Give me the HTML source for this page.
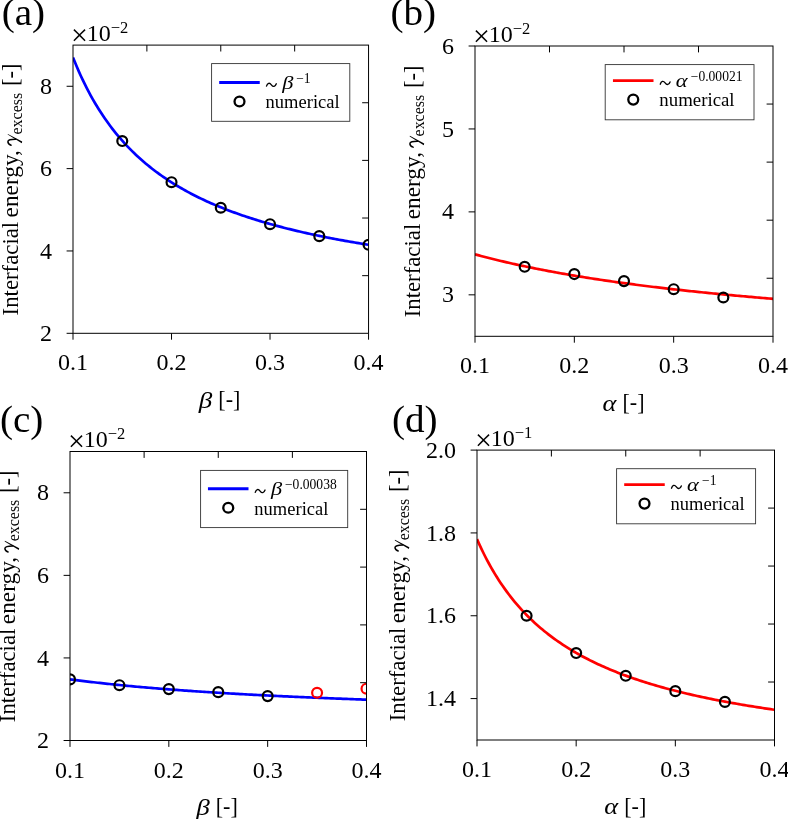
<!DOCTYPE html>
<html><head><meta charset="utf-8"><title>Figure</title>
<style>
html,body{margin:0;padding:0;background:#fff;}
body{width:788px;height:819px;overflow:hidden;font-family:"Liberation Serif", serif;}
svg{display:block;will-change:transform;}
svg text{font-family:"Liberation Serif", serif;fill:#000;}
</style></head><body>
<svg width="788" height="819" viewBox="0 0 788 819">
<rect x="0" y="0" width="788" height="819" fill="#fff"/>
<clipPath id="clipa"><rect x="73.0" y="45.1" width="295.55" height="288.2"/></clipPath>
<polyline clip-path="url(#clipa)" points="73.00,57.45 74.97,62.35 76.94,67.06 78.91,71.59 80.88,75.95 82.85,80.16 84.82,84.21 86.79,88.13 88.76,91.90 90.73,95.55 92.70,99.08 94.67,102.49 96.64,105.80 98.61,108.99 100.58,112.09 102.55,115.09 104.53,118.01 106.50,120.83 108.47,123.57 110.44,126.23 112.41,128.82 114.38,131.33 116.35,133.78 118.32,136.15 120.29,138.46 122.26,140.71 124.23,142.90 126.20,145.04 128.17,147.12 130.14,149.15 132.11,151.12 134.08,153.05 136.05,154.93 138.02,156.76 139.99,158.56 141.96,160.30 143.93,162.01 145.90,163.68 147.87,165.31 149.84,166.91 151.81,168.47 153.78,169.99 155.75,171.48 157.72,172.94 159.69,174.37 161.66,175.77 163.64,177.14 165.61,178.48 167.58,179.80 169.55,181.08 171.52,182.34 173.49,183.58 175.46,184.79 177.43,185.98 179.40,187.15 181.37,188.29 183.34,189.41 185.31,190.52 187.28,191.60 189.25,192.66 191.22,193.70 193.19,194.72 195.16,195.73 197.13,196.71 199.10,197.68 201.07,198.64 203.04,199.57 205.01,200.49 206.98,201.40 208.95,202.29 210.92,203.16 212.89,204.02 214.86,204.87 216.83,205.70 218.80,206.52 220.77,207.32 222.75,208.12 224.72,208.90 226.69,209.67 228.66,210.42 230.63,211.17 232.60,211.90 234.57,212.62 236.54,213.33 238.51,214.03 240.48,214.72 242.45,215.41 244.42,216.08 246.39,216.74 248.36,217.39 250.33,218.03 252.30,218.66 254.27,219.29 256.24,219.90 258.21,220.51 260.18,221.11 262.15,221.69 264.12,222.28 266.09,222.85 268.06,223.42 270.03,223.98 272.00,224.53 273.97,225.07 275.94,225.61 277.91,226.14 279.88,226.66 281.86,227.18 283.83,227.69 285.80,228.19 287.77,228.69 289.74,229.18 291.71,229.66 293.68,230.14 295.65,230.62 297.62,231.08 299.59,231.55 301.56,232.00 303.53,232.45 305.50,232.90 307.47,233.34 309.44,233.77 311.41,234.20 313.38,234.63 315.35,235.05 317.32,235.46 319.29,235.87 321.26,236.28 323.23,236.68 325.20,237.07 327.17,237.47 329.14,237.85 331.11,238.24 333.08,238.62 335.05,238.99 337.02,239.36 339.00,239.73 340.97,240.09 342.94,240.45 344.91,240.81 346.88,241.16 348.85,241.51 350.82,241.85 352.79,242.19 354.76,242.53 356.73,242.86 358.70,243.19 360.67,243.52 362.64,243.84 364.61,244.16 366.58,244.48 368.55,244.79" fill="none" stroke="#0000ff" stroke-width="2.7" stroke-linejoin="round"/>
<circle clip-path="url(#clipa)" cx="122.26" cy="141.03" r="4.95" fill="none" stroke="#000" stroke-width="2.2"/>
<circle clip-path="url(#clipa)" cx="171.52" cy="182.20" r="4.95" fill="none" stroke="#000" stroke-width="2.2"/>
<circle clip-path="url(#clipa)" cx="220.77" cy="207.73" r="4.95" fill="none" stroke="#000" stroke-width="2.2"/>
<circle clip-path="url(#clipa)" cx="270.03" cy="224.20" r="4.95" fill="none" stroke="#000" stroke-width="2.2"/>
<circle clip-path="url(#clipa)" cx="319.29" cy="236.14" r="4.95" fill="none" stroke="#000" stroke-width="2.2"/>
<circle clip-path="url(#clipa)" cx="368.55" cy="244.78" r="4.95" fill="none" stroke="#000" stroke-width="2.2"/>
<rect x="73.0" y="45.1" width="295.55" height="288.2" fill="none" stroke="#000" stroke-width="1.0"/>
<line x1="73.00" y1="333.3" x2="73.00" y2="339.7" stroke="#000" stroke-width="1.0"/>
<text transform="translate(73.00,370.30)" font-size="24" text-anchor="middle" >0.1</text>
<line x1="171.52" y1="333.3" x2="171.52" y2="339.7" stroke="#000" stroke-width="1.0"/>
<text transform="translate(171.52,370.30)" font-size="24" text-anchor="middle" >0.2</text>
<line x1="270.03" y1="333.3" x2="270.03" y2="339.7" stroke="#000" stroke-width="1.0"/>
<text transform="translate(270.03,370.30)" font-size="24" text-anchor="middle" >0.3</text>
<line x1="368.55" y1="333.3" x2="368.55" y2="339.7" stroke="#000" stroke-width="1.0"/>
<text transform="translate(368.55,370.30)" font-size="24" text-anchor="middle" >0.4</text>
<line x1="73.0" y1="333.30" x2="66.6" y2="333.30" stroke="#000" stroke-width="1.0"/>
<text transform="translate(52.00,340.90)" font-size="24" text-anchor="end" >2</text>
<line x1="73.0" y1="250.96" x2="66.6" y2="250.96" stroke="#000" stroke-width="1.0"/>
<text transform="translate(52.00,258.56)" font-size="24" text-anchor="end" >4</text>
<line x1="73.0" y1="168.61" x2="66.6" y2="168.61" stroke="#000" stroke-width="1.0"/>
<text transform="translate(52.00,176.21)" font-size="24" text-anchor="end" >6</text>
<line x1="73.0" y1="86.27" x2="66.6" y2="86.27" stroke="#000" stroke-width="1.0"/>
<text transform="translate(52.00,93.87)" font-size="24" text-anchor="end" >8</text>
<line x1="146.89" y1="45.1" x2="146.89" y2="51.5" stroke="#000" stroke-width="1.0"/>
<line x1="220.78" y1="45.1" x2="220.78" y2="51.5" stroke="#000" stroke-width="1.0"/>
<line x1="294.66" y1="45.1" x2="294.66" y2="51.5" stroke="#000" stroke-width="1.0"/>
<line x1="368.55" y1="275.66" x2="362.15000000000003" y2="275.66" stroke="#000" stroke-width="1.0"/>
<line x1="368.55" y1="218.02" x2="362.15000000000003" y2="218.02" stroke="#000" stroke-width="1.0"/>
<line x1="368.55" y1="160.38" x2="362.15000000000003" y2="160.38" stroke="#000" stroke-width="1.0"/>
<line x1="368.55" y1="102.74" x2="362.15000000000003" y2="102.74" stroke="#000" stroke-width="1.0"/>
<text transform="translate(71.10,44.70)" font-size="30" text-anchor="start" >×</text>
<text transform="translate(86.80,41.00)" font-size="24" text-anchor="start" >10<tspan font-size="16.5" dy="-8.1">−2</tspan></text>
<text transform="translate(1.70,25.30) scale(1.03,1)" font-size="38" text-anchor="start" >(a)</text>
<text transform="translate(198.78,407.50) scale(1.13,1)" font-size="24" text-anchor="start" font-style="italic">β</text>
<text transform="translate(218.28,407.20) scale(0.96,1)" font-size="23" text-anchor="start" >[-]</text>
<text transform="translate(18.10,315.40) rotate(-90) scale(0.95,1)" font-size="24" text-anchor="start" >Interfacial</text>
<text transform="translate(18.10,217.40) rotate(-90) scale(0.972,1)" font-size="24" text-anchor="start" >energy,</text>
<g transform="translate(18.10,145.50) rotate(-90)"><path d="M0.3,-7.0 C1.1,-9.0 2.4,-10.2 3.8,-10.2 C5.5,-10.2 6.3,-7.4 6.25,-2.4" fill="none" stroke="#000" stroke-width="1.5" stroke-linecap="round"/><path d="M10.9,-10.4 L11.6,-10.25 L4.0,4.1 L2.3,3.7 Z" fill="#000"/></g>
<text transform="translate(21.70,134.50) rotate(-90) scale(0.95,1)" font-size="16.8" text-anchor="start" >excess</text>
<text transform="translate(17.90,86.10) rotate(-90) scale(0.98,1)" font-size="23" text-anchor="start" >[-]</text>
<rect x="211.60" y="63.60" width="138.20" height="57.70" fill="#fff" stroke="#333" stroke-width="0.9"/>
<line x1="219.20" y1="82.50" x2="259.75" y2="82.50" stroke="#0000ff" stroke-width="2.8"/>
<circle cx="239.50" cy="101.50" r="4.95" fill="none" stroke="#000" stroke-width="2.3"/>
<path transform="translate(265.60,88.80)" d="M0.9,-2.7 C1.9,-5.8 3.9,-6.5 5.75,-4.0 C7.6,-1.5 9.6,-2.0 10.7,-5.0" fill="none" stroke="#000" stroke-width="1.35" stroke-linecap="round"/>
<text transform="translate(282.20,88.90) scale(1.15,1)" font-size="19.5" text-anchor="start" font-style="italic">β</text>
<text transform="translate(296.20,83.20) scale(0.97,1)" font-size="14" text-anchor="start" >−1</text>
<text transform="translate(265.60,107.90) scale(0.95,1)" font-size="19.5" text-anchor="start" >numerical</text>
<clipPath id="clipb"><rect x="475.0" y="46.0" width="298.0" height="290.3"/></clipPath>
<polyline clip-path="url(#clipb)" points="475.00,254.35 476.99,254.89 478.97,255.42 480.96,255.95 482.95,256.48 484.93,257.00 486.92,257.51 488.91,258.02 490.89,258.52 492.88,259.01 494.87,259.51 496.85,259.99 498.84,260.47 500.83,260.95 502.81,261.42 504.80,261.89 506.79,262.35 508.77,262.80 510.76,263.26 512.75,263.70 514.73,264.15 516.72,264.58 518.71,265.02 520.69,265.45 522.68,265.87 524.67,266.30 526.65,266.71 528.64,267.13 530.63,267.54 532.61,267.94 534.60,268.34 536.59,268.74 538.57,269.13 540.56,269.52 542.55,269.91 544.53,270.29 546.52,270.67 548.51,271.05 550.49,271.42 552.48,271.79 554.47,272.16 556.45,272.52 558.44,272.88 560.43,273.23 562.41,273.59 564.40,273.93 566.39,274.28 568.37,274.62 570.36,274.96 572.35,275.30 574.33,275.64 576.32,275.97 578.31,276.30 580.29,276.62 582.28,276.94 584.27,277.26 586.25,277.58 588.24,277.90 590.23,278.21 592.21,278.52 594.20,278.82 596.19,279.13 598.17,279.43 600.16,279.73 602.15,280.03 604.13,280.32 606.12,280.61 608.11,280.90 610.09,281.19 612.08,281.48 614.07,281.76 616.05,282.04 618.04,282.32 620.03,282.59 622.01,282.87 624.00,283.14 625.99,283.41 627.97,283.67 629.96,283.94 631.95,284.20 633.93,284.46 635.92,284.72 637.91,284.98 639.89,285.24 641.88,285.49 643.87,285.74 645.85,285.99 647.84,286.24 649.83,286.48 651.81,286.73 653.80,286.97 655.79,287.21 657.77,287.45 659.76,287.69 661.75,287.92 663.73,288.15 665.72,288.39 667.71,288.62 669.69,288.84 671.68,289.07 673.67,289.30 675.65,289.52 677.64,289.74 679.63,289.96 681.61,290.18 683.60,290.40 685.59,290.61 687.57,290.83 689.56,291.04 691.55,291.25 693.53,291.46 695.52,291.67 697.51,291.88 699.49,292.08 701.48,292.28 703.47,292.49 705.45,292.69 707.44,292.89 709.43,293.09 711.41,293.28 713.40,293.48 715.39,293.68 717.37,293.87 719.36,294.06 721.35,294.25 723.33,294.44 725.32,294.63 727.31,294.82 729.29,295.00 731.28,295.19 733.27,295.37 735.25,295.55 737.24,295.73 739.23,295.91 741.21,296.09 743.20,296.27 745.19,296.45 747.17,296.62 749.16,296.80 751.15,296.97 753.13,297.14 755.12,297.31 757.11,297.48 759.09,297.65 761.08,297.82 763.07,297.99 765.05,298.15 767.04,298.32 769.03,298.48 771.01,298.64 773.00,298.80" fill="none" stroke="#ff0000" stroke-width="2.7" stroke-linejoin="round"/>
<circle clip-path="url(#clipb)" cx="524.67" cy="266.79" r="4.95" fill="none" stroke="#000" stroke-width="2.2"/>
<circle clip-path="url(#clipb)" cx="574.33" cy="274.09" r="4.95" fill="none" stroke="#000" stroke-width="2.2"/>
<circle clip-path="url(#clipb)" cx="624.00" cy="281.10" r="4.95" fill="none" stroke="#000" stroke-width="2.2"/>
<circle clip-path="url(#clipb)" cx="673.67" cy="289.20" r="4.95" fill="none" stroke="#000" stroke-width="2.2"/>
<circle clip-path="url(#clipb)" cx="723.33" cy="297.50" r="4.95" fill="none" stroke="#000" stroke-width="2.2"/>
<rect x="475.0" y="46.0" width="298.0" height="290.3" fill="none" stroke="#000" stroke-width="1.0"/>
<line x1="475.00" y1="336.3" x2="475.00" y2="342.7" stroke="#000" stroke-width="1.0"/>
<text transform="translate(475.00,373.30)" font-size="24" text-anchor="middle" >0.1</text>
<line x1="574.33" y1="336.3" x2="574.33" y2="342.7" stroke="#000" stroke-width="1.0"/>
<text transform="translate(574.33,373.30)" font-size="24" text-anchor="middle" >0.2</text>
<line x1="673.67" y1="336.3" x2="673.67" y2="342.7" stroke="#000" stroke-width="1.0"/>
<text transform="translate(673.67,373.30)" font-size="24" text-anchor="middle" >0.3</text>
<line x1="773.00" y1="336.3" x2="773.00" y2="342.7" stroke="#000" stroke-width="1.0"/>
<text transform="translate(773.00,373.30)" font-size="24" text-anchor="middle" >0.4</text>
<line x1="475.0" y1="294.83" x2="468.6" y2="294.83" stroke="#000" stroke-width="1.0"/>
<text transform="translate(454.00,302.43)" font-size="24" text-anchor="end" >3</text>
<line x1="475.0" y1="211.89" x2="468.6" y2="211.89" stroke="#000" stroke-width="1.0"/>
<text transform="translate(454.00,219.49)" font-size="24" text-anchor="end" >4</text>
<line x1="475.0" y1="128.94" x2="468.6" y2="128.94" stroke="#000" stroke-width="1.0"/>
<text transform="translate(454.00,136.54)" font-size="24" text-anchor="end" >5</text>
<line x1="475.0" y1="46.00" x2="468.6" y2="46.00" stroke="#000" stroke-width="1.0"/>
<text transform="translate(454.00,53.60)" font-size="24" text-anchor="end" >6</text>
<line x1="549.50" y1="46.0" x2="549.50" y2="52.4" stroke="#000" stroke-width="1.0"/>
<line x1="624.00" y1="46.0" x2="624.00" y2="52.4" stroke="#000" stroke-width="1.0"/>
<line x1="698.50" y1="46.0" x2="698.50" y2="52.4" stroke="#000" stroke-width="1.0"/>
<line x1="773.0" y1="278.24" x2="766.6" y2="278.24" stroke="#000" stroke-width="1.0"/>
<line x1="773.0" y1="220.18" x2="766.6" y2="220.18" stroke="#000" stroke-width="1.0"/>
<line x1="773.0" y1="162.12" x2="766.6" y2="162.12" stroke="#000" stroke-width="1.0"/>
<line x1="773.0" y1="104.06" x2="766.6" y2="104.06" stroke="#000" stroke-width="1.0"/>
<text transform="translate(473.10,45.60)" font-size="30" text-anchor="start" >×</text>
<text transform="translate(488.80,41.90)" font-size="24" text-anchor="start" >10<tspan font-size="16.5" dy="-8.1">−2</tspan></text>
<text transform="translate(390.50,25.40) scale(1.03,1)" font-size="38" text-anchor="start" >(b)</text>
<text transform="translate(602.40,410.50) scale(1.1,1)" font-size="24" text-anchor="start" font-style="italic">α</text>
<text transform="translate(622.50,410.20) scale(0.96,1)" font-size="23" text-anchor="start" >[-]</text>
<text transform="translate(420.10,317.35) rotate(-90) scale(0.95,1)" font-size="24" text-anchor="start" >Interfacial</text>
<text transform="translate(420.10,219.35) rotate(-90) scale(0.972,1)" font-size="24" text-anchor="start" >energy,</text>
<g transform="translate(420.10,147.45) rotate(-90)"><path d="M0.3,-7.0 C1.1,-9.0 2.4,-10.2 3.8,-10.2 C5.5,-10.2 6.3,-7.4 6.25,-2.4" fill="none" stroke="#000" stroke-width="1.5" stroke-linecap="round"/><path d="M10.9,-10.4 L11.6,-10.25 L4.0,4.1 L2.3,3.7 Z" fill="#000"/></g>
<text transform="translate(423.70,136.45) rotate(-90) scale(0.95,1)" font-size="16.8" text-anchor="start" >excess</text>
<text transform="translate(419.90,88.05) rotate(-90) scale(0.98,1)" font-size="23" text-anchor="start" >[-]</text>
<rect x="605.20" y="64.60" width="148.80" height="55.20" fill="#fff" stroke="#333" stroke-width="0.9"/>
<line x1="612.95" y1="80.60" x2="653.50" y2="80.60" stroke="#ff0000" stroke-width="2.8"/>
<circle cx="633.25" cy="99.60" r="4.95" fill="none" stroke="#000" stroke-width="2.3"/>
<path transform="translate(659.35,86.90)" d="M0.9,-2.7 C1.9,-5.8 3.9,-6.5 5.75,-4.0 C7.6,-1.5 9.6,-2.0 10.7,-5.0" fill="none" stroke="#000" stroke-width="1.35" stroke-linecap="round"/>
<text transform="translate(675.85,86.90) scale(1.15,1)" font-size="19.5" text-anchor="start" font-style="italic">α</text>
<text transform="translate(690.75,80.90) scale(0.97,1)" font-size="14" text-anchor="start" >−0.00021</text>
<text transform="translate(659.35,106.40) scale(0.965,1)" font-size="19.5" text-anchor="start" >numerical</text>
<clipPath id="clipc"><rect x="70.0" y="451.5" width="296.5" height="289.0"/></clipPath>
<polyline clip-path="url(#clipc)" points="70.00,679.33 71.98,679.59 73.95,679.85 75.93,680.10 77.91,680.36 79.88,680.61 81.86,680.85 83.84,681.10 85.81,681.34 87.79,681.58 89.77,681.81 91.74,682.04 93.72,682.27 95.70,682.50 97.67,682.72 99.65,682.94 101.63,683.16 103.60,683.38 105.58,683.59 107.56,683.81 109.53,684.02 111.51,684.22 113.49,684.43 115.46,684.63 117.44,684.83 119.42,685.03 121.39,685.22 123.37,685.42 125.35,685.61 127.32,685.80 129.30,685.99 131.28,686.17 133.25,686.36 135.23,686.54 137.21,686.72 139.18,686.90 141.16,687.07 143.14,687.25 145.11,687.42 147.09,687.59 149.07,687.76 151.04,687.93 153.02,688.09 155.00,688.26 156.97,688.42 158.95,688.58 160.93,688.74 162.90,688.90 164.88,689.05 166.86,689.21 168.83,689.36 170.81,689.51 172.79,689.66 174.76,689.81 176.74,689.96 178.72,690.11 180.69,690.25 182.67,690.39 184.65,690.54 186.62,690.68 188.60,690.82 190.58,690.95 192.55,691.09 194.53,691.23 196.51,691.36 198.48,691.50 200.46,691.63 202.44,691.76 204.41,691.89 206.39,692.02 208.37,692.14 210.34,692.27 212.32,692.40 214.30,692.52 216.27,692.64 218.25,692.77 220.23,692.89 222.20,693.01 224.18,693.13 226.16,693.24 228.13,693.36 230.11,693.48 232.09,693.59 234.06,693.71 236.04,693.82 238.02,693.93 239.99,694.04 241.97,694.15 243.95,694.26 245.92,694.37 247.90,694.48 249.88,694.59 251.85,694.69 253.83,694.80 255.81,694.90 257.78,695.01 259.76,695.11 261.74,695.21 263.71,695.31 265.69,695.41 267.67,695.51 269.64,695.61 271.62,695.71 273.60,695.81 275.57,695.90 277.55,696.00 279.53,696.09 281.50,696.19 283.48,696.28 285.46,696.38 287.43,696.47 289.41,696.56 291.39,696.65 293.36,696.74 295.34,696.83 297.32,696.92 299.29,697.01 301.27,697.10 303.25,697.18 305.22,697.27 307.20,697.35 309.18,697.44 311.15,697.52 313.13,697.61 315.11,697.69 317.08,697.77 319.06,697.86 321.04,697.94 323.01,698.02 324.99,698.10 326.97,698.18 328.94,698.26 330.92,698.34 332.90,698.42 334.87,698.49 336.85,698.57 338.83,698.65 340.80,698.72 342.78,698.80 344.76,698.88 346.73,698.95 348.71,699.02 350.69,699.10 352.66,699.17 354.64,699.24 356.62,699.32 358.59,699.39 360.57,699.46 362.55,699.53 364.52,699.60 366.50,699.67" fill="none" stroke="#0000ff" stroke-width="2.7" stroke-linejoin="round"/>
<circle clip-path="url(#clipc)" cx="70.00" cy="679.40" r="4.95" fill="none" stroke="#000" stroke-width="2.2"/>
<circle clip-path="url(#clipc)" cx="119.42" cy="685.20" r="4.95" fill="none" stroke="#000" stroke-width="2.2"/>
<circle clip-path="url(#clipc)" cx="168.83" cy="689.10" r="4.95" fill="none" stroke="#000" stroke-width="2.2"/>
<circle clip-path="url(#clipc)" cx="218.25" cy="692.15" r="4.95" fill="none" stroke="#000" stroke-width="2.2"/>
<circle clip-path="url(#clipc)" cx="267.67" cy="696.10" r="4.95" fill="none" stroke="#000" stroke-width="2.2"/>
<circle clip-path="url(#clipc)" cx="317.08" cy="692.80" r="4.95" fill="none" stroke="#ff0000" stroke-width="2.2"/>
<circle clip-path="url(#clipc)" cx="366.50" cy="688.70" r="4.95" fill="none" stroke="#ff0000" stroke-width="2.2"/>
<rect x="70.0" y="451.5" width="296.5" height="289.0" fill="none" stroke="#000" stroke-width="1.0"/>
<line x1="70.00" y1="740.5" x2="70.00" y2="746.9" stroke="#000" stroke-width="1.0"/>
<text transform="translate(70.00,777.50)" font-size="24" text-anchor="middle" >0.1</text>
<line x1="168.83" y1="740.5" x2="168.83" y2="746.9" stroke="#000" stroke-width="1.0"/>
<text transform="translate(168.83,777.50)" font-size="24" text-anchor="middle" >0.2</text>
<line x1="267.67" y1="740.5" x2="267.67" y2="746.9" stroke="#000" stroke-width="1.0"/>
<text transform="translate(267.67,777.50)" font-size="24" text-anchor="middle" >0.3</text>
<line x1="366.50" y1="740.5" x2="366.50" y2="746.9" stroke="#000" stroke-width="1.0"/>
<text transform="translate(366.50,777.50)" font-size="24" text-anchor="middle" >0.4</text>
<line x1="70.0" y1="740.50" x2="63.6" y2="740.50" stroke="#000" stroke-width="1.0"/>
<text transform="translate(49.00,748.10)" font-size="24" text-anchor="end" >2</text>
<line x1="70.0" y1="657.93" x2="63.6" y2="657.93" stroke="#000" stroke-width="1.0"/>
<text transform="translate(49.00,665.53)" font-size="24" text-anchor="end" >4</text>
<line x1="70.0" y1="575.36" x2="63.6" y2="575.36" stroke="#000" stroke-width="1.0"/>
<text transform="translate(49.00,582.96)" font-size="24" text-anchor="end" >6</text>
<line x1="70.0" y1="492.79" x2="63.6" y2="492.79" stroke="#000" stroke-width="1.0"/>
<text transform="translate(49.00,500.39)" font-size="24" text-anchor="end" >8</text>
<line x1="144.12" y1="451.5" x2="144.12" y2="457.9" stroke="#000" stroke-width="1.0"/>
<line x1="218.25" y1="451.5" x2="218.25" y2="457.9" stroke="#000" stroke-width="1.0"/>
<line x1="292.38" y1="451.5" x2="292.38" y2="457.9" stroke="#000" stroke-width="1.0"/>
<line x1="366.5" y1="682.70" x2="360.1" y2="682.70" stroke="#000" stroke-width="1.0"/>
<line x1="366.5" y1="624.90" x2="360.1" y2="624.90" stroke="#000" stroke-width="1.0"/>
<line x1="366.5" y1="567.10" x2="360.1" y2="567.10" stroke="#000" stroke-width="1.0"/>
<line x1="366.5" y1="509.30" x2="360.1" y2="509.30" stroke="#000" stroke-width="1.0"/>
<text transform="translate(68.10,451.10)" font-size="30" text-anchor="start" >×</text>
<text transform="translate(83.80,447.40)" font-size="24" text-anchor="start" >10<tspan font-size="16.5" dy="-8.1">−2</tspan></text>
<text transform="translate(-0.10,432.20) scale(1.03,1)" font-size="38" text-anchor="start" >(c)</text>
<text transform="translate(196.25,814.70) scale(1.13,1)" font-size="24" text-anchor="start" font-style="italic">β</text>
<text transform="translate(215.75,814.40) scale(0.96,1)" font-size="23" text-anchor="start" >[-]</text>
<text transform="translate(15.10,722.20) rotate(-90) scale(0.95,1)" font-size="24" text-anchor="start" >Interfacial</text>
<text transform="translate(15.10,624.20) rotate(-90) scale(0.972,1)" font-size="24" text-anchor="start" >energy,</text>
<g transform="translate(15.10,552.30) rotate(-90)"><path d="M0.3,-7.0 C1.1,-9.0 2.4,-10.2 3.8,-10.2 C5.5,-10.2 6.3,-7.4 6.25,-2.4" fill="none" stroke="#000" stroke-width="1.5" stroke-linecap="round"/><path d="M10.9,-10.4 L11.6,-10.25 L4.0,4.1 L2.3,3.7 Z" fill="#000"/></g>
<text transform="translate(18.70,541.30) rotate(-90) scale(0.95,1)" font-size="16.8" text-anchor="start" >excess</text>
<text transform="translate(14.90,492.90) rotate(-90) scale(0.98,1)" font-size="23" text-anchor="start" >[-]</text>
<rect x="200.60" y="470.40" width="147.10" height="57.20" fill="#fff" stroke="#333" stroke-width="0.9"/>
<line x1="207.95" y1="488.75" x2="248.50" y2="488.75" stroke="#0000ff" stroke-width="2.8"/>
<circle cx="228.25" cy="507.75" r="4.95" fill="none" stroke="#000" stroke-width="2.3"/>
<path transform="translate(254.35,495.05)" d="M0.9,-2.7 C1.9,-5.8 3.9,-6.5 5.75,-4.0 C7.6,-1.5 9.6,-2.0 10.7,-5.0" fill="none" stroke="#000" stroke-width="1.35" stroke-linecap="round"/>
<text transform="translate(270.95,495.15) scale(1.15,1)" font-size="19.5" text-anchor="start" font-style="italic">β</text>
<text transform="translate(284.95,489.45) scale(0.97,1)" font-size="14" text-anchor="start" >−0.00038</text>
<text transform="translate(254.35,514.55) scale(0.95,1)" font-size="19.5" text-anchor="start" >numerical</text>
<clipPath id="clipd"><rect x="477.0" y="450.1" width="297.5" height="289.9"/></clipPath>
<polyline clip-path="url(#clipd)" points="477.00,539.14 478.98,543.60 480.97,547.89 482.95,552.02 484.93,555.99 486.92,559.82 488.90,563.51 490.88,567.08 492.87,570.52 494.85,573.84 496.83,577.06 498.82,580.16 500.80,583.17 502.78,586.08 504.77,588.90 506.75,591.64 508.73,594.29 510.72,596.86 512.70,599.36 514.68,601.78 516.67,604.14 518.65,606.43 520.63,608.65 522.62,610.82 524.60,612.92 526.58,614.97 528.57,616.97 530.55,618.91 532.53,620.80 534.52,622.65 536.50,624.45 538.48,626.20 540.47,627.92 542.45,629.59 544.43,631.22 546.42,632.81 548.40,634.37 550.38,635.89 552.37,637.37 554.35,638.83 556.33,640.25 558.32,641.64 560.30,642.99 562.28,644.32 564.27,645.62 566.25,646.90 568.23,648.15 570.22,649.37 572.20,650.56 574.18,651.74 576.17,652.89 578.15,654.01 580.13,655.12 582.12,656.20 584.10,657.26 586.08,658.30 588.07,659.32 590.05,660.33 592.03,661.31 594.02,662.28 596.00,663.23 597.98,664.16 599.97,665.07 601.95,665.97 603.93,666.85 605.92,667.72 607.90,668.57 609.88,669.41 611.87,670.24 613.85,671.05 615.83,671.84 617.82,672.63 619.80,673.40 621.78,674.15 623.77,674.90 625.75,675.63 627.73,676.36 629.72,677.07 631.70,677.77 633.68,678.46 635.67,679.13 637.65,679.80 639.63,680.46 641.62,681.11 643.60,681.75 645.58,682.37 647.57,682.99 649.55,683.60 651.53,684.21 653.52,684.80 655.50,685.38 657.48,685.96 659.47,686.53 661.45,687.09 663.43,687.64 665.42,688.19 667.40,688.72 669.38,689.25 671.37,689.78 673.35,690.29 675.33,690.80 677.32,691.30 679.30,691.80 681.28,692.29 683.27,692.77 685.25,693.25 687.23,693.72 689.22,694.18 691.20,694.64 693.18,695.09 695.17,695.54 697.15,695.98 699.13,696.42 701.12,696.85 703.10,697.27 705.08,697.69 707.07,698.11 709.05,698.52 711.03,698.92 713.02,699.33 715.00,699.72 716.98,700.11 718.97,700.50 720.95,700.88 722.93,701.26 724.92,701.63 726.90,702.00 728.88,702.37 730.87,702.73 732.85,703.09 734.83,703.44 736.82,703.79 738.80,704.13 740.78,704.47 742.77,704.81 744.75,705.15 746.73,705.48 748.72,705.80 750.70,706.13 752.68,706.45 754.67,706.76 756.65,707.08 758.63,707.39 760.62,707.69 762.60,708.00 764.58,708.30 766.57,708.60 768.55,708.89 770.53,709.18 772.52,709.47 774.50,709.76" fill="none" stroke="#ff0000" stroke-width="2.7" stroke-linejoin="round"/>
<circle clip-path="url(#clipd)" cx="526.58" cy="615.76" r="4.95" fill="none" stroke="#000" stroke-width="2.2"/>
<circle clip-path="url(#clipd)" cx="576.17" cy="653.03" r="4.95" fill="none" stroke="#000" stroke-width="2.2"/>
<circle clip-path="url(#clipd)" cx="625.75" cy="675.81" r="4.95" fill="none" stroke="#000" stroke-width="2.2"/>
<circle clip-path="url(#clipd)" cx="675.33" cy="691.13" r="4.95" fill="none" stroke="#000" stroke-width="2.2"/>
<circle clip-path="url(#clipd)" cx="724.92" cy="701.90" r="4.95" fill="none" stroke="#000" stroke-width="2.2"/>
<rect x="477.0" y="450.1" width="297.5" height="289.9" fill="none" stroke="#000" stroke-width="1.0"/>
<line x1="477.00" y1="740.0" x2="477.00" y2="746.4" stroke="#000" stroke-width="1.0"/>
<text transform="translate(477.00,777.00)" font-size="24" text-anchor="middle" >0.1</text>
<line x1="576.17" y1="740.0" x2="576.17" y2="746.4" stroke="#000" stroke-width="1.0"/>
<text transform="translate(576.17,777.00)" font-size="24" text-anchor="middle" >0.2</text>
<line x1="675.33" y1="740.0" x2="675.33" y2="746.4" stroke="#000" stroke-width="1.0"/>
<text transform="translate(675.33,777.00)" font-size="24" text-anchor="middle" >0.3</text>
<line x1="774.50" y1="740.0" x2="774.50" y2="746.4" stroke="#000" stroke-width="1.0"/>
<text transform="translate(774.50,777.00)" font-size="24" text-anchor="middle" >0.4</text>
<line x1="477.0" y1="698.59" x2="470.6" y2="698.59" stroke="#000" stroke-width="1.0"/>
<text transform="translate(456.00,706.19)" font-size="24" text-anchor="end" >1.4</text>
<line x1="477.0" y1="615.76" x2="470.6" y2="615.76" stroke="#000" stroke-width="1.0"/>
<text transform="translate(456.00,623.36)" font-size="24" text-anchor="end" >1.6</text>
<line x1="477.0" y1="532.93" x2="470.6" y2="532.93" stroke="#000" stroke-width="1.0"/>
<text transform="translate(456.00,540.53)" font-size="24" text-anchor="end" >1.8</text>
<line x1="477.0" y1="450.10" x2="470.6" y2="450.10" stroke="#000" stroke-width="1.0"/>
<text transform="translate(456.00,457.70)" font-size="24" text-anchor="end" >2.0</text>
<line x1="551.38" y1="450.1" x2="551.38" y2="456.5" stroke="#000" stroke-width="1.0"/>
<line x1="625.75" y1="450.1" x2="625.75" y2="456.5" stroke="#000" stroke-width="1.0"/>
<line x1="700.12" y1="450.1" x2="700.12" y2="456.5" stroke="#000" stroke-width="1.0"/>
<line x1="774.5" y1="682.02" x2="768.1" y2="682.02" stroke="#000" stroke-width="1.0"/>
<line x1="774.5" y1="624.04" x2="768.1" y2="624.04" stroke="#000" stroke-width="1.0"/>
<line x1="774.5" y1="566.06" x2="768.1" y2="566.06" stroke="#000" stroke-width="1.0"/>
<line x1="774.5" y1="508.08" x2="768.1" y2="508.08" stroke="#000" stroke-width="1.0"/>
<text transform="translate(475.10,449.70)" font-size="30" text-anchor="start" >×</text>
<text transform="translate(490.80,446.00)" font-size="24" text-anchor="start" >10<tspan font-size="16.5" dy="-8.1">−1</tspan></text>
<text transform="translate(392.00,432.30) scale(1.03,1)" font-size="38" text-anchor="start" >(d)</text>
<text transform="translate(604.15,814.20) scale(1.1,1)" font-size="24" text-anchor="start" font-style="italic">α</text>
<text transform="translate(624.25,813.90) scale(0.96,1)" font-size="23" text-anchor="start" >[-]</text>
<text transform="translate(405.20,721.25) rotate(-90) scale(0.95,1)" font-size="24" text-anchor="start" >Interfacial</text>
<text transform="translate(405.20,623.25) rotate(-90) scale(0.972,1)" font-size="24" text-anchor="start" >energy,</text>
<g transform="translate(405.20,551.35) rotate(-90)"><path d="M0.3,-7.0 C1.1,-9.0 2.4,-10.2 3.8,-10.2 C5.5,-10.2 6.3,-7.4 6.25,-2.4" fill="none" stroke="#000" stroke-width="1.5" stroke-linecap="round"/><path d="M10.9,-10.4 L11.6,-10.25 L4.0,4.1 L2.3,3.7 Z" fill="#000"/></g>
<text transform="translate(408.80,540.35) rotate(-90) scale(0.95,1)" font-size="16.8" text-anchor="start" >excess</text>
<text transform="translate(405.00,491.95) rotate(-90) scale(0.98,1)" font-size="23" text-anchor="start" >[-]</text>
<rect x="616.60" y="468.70" width="139.00" height="55.10" fill="#fff" stroke="#333" stroke-width="0.9"/>
<line x1="624.20" y1="484.60" x2="664.75" y2="484.60" stroke="#ff0000" stroke-width="2.8"/>
<circle cx="644.50" cy="503.60" r="4.95" fill="none" stroke="#000" stroke-width="2.3"/>
<path transform="translate(670.60,490.90)" d="M0.9,-2.7 C1.9,-5.8 3.9,-6.5 5.75,-4.0 C7.6,-1.5 9.6,-2.0 10.7,-5.0" fill="none" stroke="#000" stroke-width="1.35" stroke-linecap="round"/>
<text transform="translate(687.10,490.90) scale(1.15,1)" font-size="19.5" text-anchor="start" font-style="italic">α</text>
<text transform="translate(702.00,484.90) scale(0.97,1)" font-size="14" text-anchor="start" >−1</text>
<text transform="translate(670.60,510.40) scale(0.95,1)" font-size="19.5" text-anchor="start" >numerical</text>
</svg>
</body></html>
